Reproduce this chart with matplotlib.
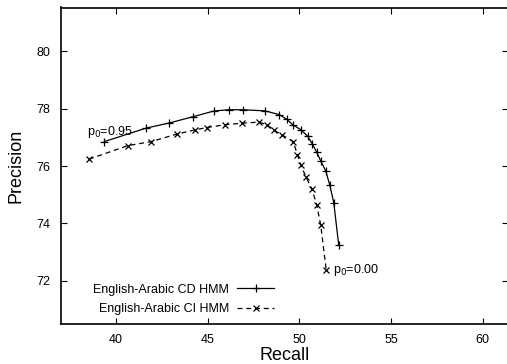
import matplotlib
matplotlib.use("Agg")
import matplotlib.pyplot as plt

plt.rcParams['font.family'] = ['Liberation Sans', 'DejaVu Sans']

# precision/recall sweep over p0 = 0.95 ... 0.00
cd_recall = [39.36, 41.64, 42.91, 44.22, 45.36, 46.18, 46.94, 48.13, 48.91, 49.31,
             49.64, 50.09, 50.45, 50.71, 50.95, 51.18, 51.44, 51.66, 51.88, 52.15]
cd_precision = [76.85, 77.32, 77.50, 77.72, 77.92, 77.96, 77.96, 77.92, 77.79, 77.63,
                77.44, 77.26, 77.04, 76.77, 76.48, 76.16, 75.83, 75.34, 74.72, 73.24]

ci_recall = [38.53, 40.64, 41.91, 43.31, 44.31, 44.95, 45.95, 46.86, 47.80, 48.22,
             48.64, 49.04, 49.67, 49.90, 50.09, 50.37, 50.69, 50.95, 51.17, 51.47]
ci_precision = [76.24, 76.71, 76.85, 77.11, 77.26, 77.34, 77.44, 77.49, 77.53, 77.44,
                77.24, 77.09, 76.85, 76.39, 76.02, 75.61, 75.19, 74.65, 73.93, 72.37]

x_ticks = [40, 45, 50, 55, 60]
y_ticks = [72, 74, 76, 78, 80]

fig = plt.figure(figsize=(5.07, 3.64), dpi=100)
# right border sits just past the image edge
ax = fig.add_axes([61 / 507, 1 - 324 / 364, 447.5 / 507, (324 - 7.5) / 364])

ax.plot(cd_recall, cd_precision, color='black', lw=0.9, marker='+', ms=6,
        mew=0.9, label='English-Arabic CD HMM')
ax.plot(ci_recall, ci_precision, color='black', lw=0.9, ls=(0, (4, 3)), marker='x',
        ms=4.5, mew=0.9, label='English-Arabic CI HMM')

ax.text(38.40, 77.09, 'p$_0$=0.95', fontsize=9, va='baseline', ha='left')
ax.annotate('p$_0$=0.00', (ci_recall[-1], ci_precision[-1]), xytext=(5, 0),
            textcoords='offset points', fontsize=9, va='center', ha='left')

ax.set_xlim(37.0, 61.41)
ax.set_ylim(70.5, 81.52)
ax.set_xticks(x_ticks)
ax.set_yticks(y_ticks)
ax.tick_params(direction='in', top=True, right=True, length=4, width=0.8,
               labelsize=9)
ax.tick_params(axis='y', pad=8)
ax.tick_params(axis='x', pad=7)
for sp in ax.spines.values():
    sp.set_linewidth(1.2)

ax.set_xlabel('Recall', fontsize=13, labelpad=1.2)
ax.set_ylabel('Precision', fontsize=13, labelpad=8)

ax.legend(loc='center left', bbox_to_anchor=(87 / 507, 1 - 299.3 / 364),
          bbox_transform=fig.transFigure, frameon=False, markerfirst=False,
          fontsize=9, handlelength=2.95, handletextpad=0.65, borderpad=0,
          labelspacing=0.6)

fig.savefig('out.png', dpi=100)
